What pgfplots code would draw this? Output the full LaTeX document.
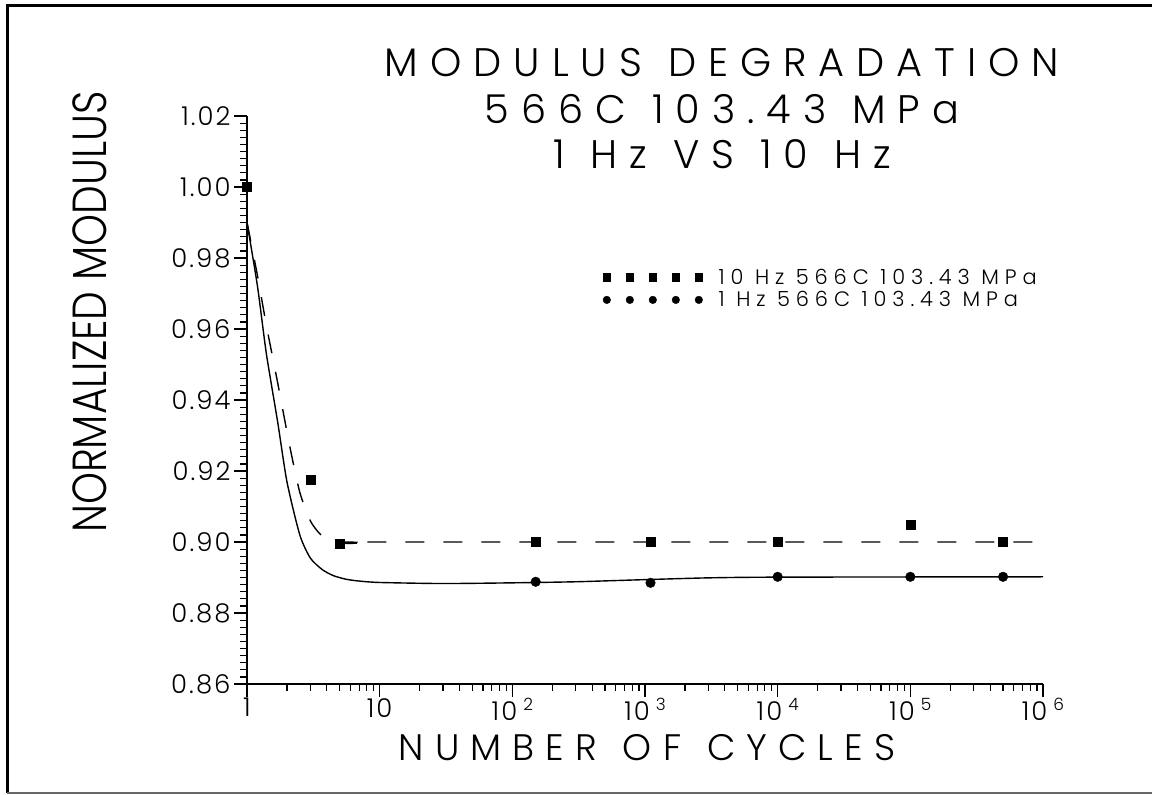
\documentclass[border=0pt]{standalone}
\usepackage{pgfplots}
\pgfplotsset{compat=1.18}
\usepackage{fontspec}
\setmainfont{Poppins Light}
\newfontfamily\tf{Poppins Light}[LetterSpace=30]
\newfontfamily\lf{Poppins Light}[LetterSpace=28]
\newfontfamily\yf{Poppins Light}[FakeStretch=0.85]
\newfontfamily\kf{Poppins Light}[LetterSpace=8]
\newcommand{\sups}[1]{10\hspace{6bp}\raisebox{10bp}{\fontsize{17}{17}\selectfont #1}}
\begin{document}
\begin{tikzpicture}
\useasboundingbox (0,0) rectangle (1154bp,-795bp);
\draw[line width=3bp] (7bp,-793bp) -- (7bp,-5bp) -- (1152bp,-5bp);
\draw[line width=1.5bp, black!60] (7bp,-793bp) -- (1152bp,-793bp);
\begin{axis}[
  at={(247bp,-684bp)}, anchor=south west,
  scale only axis, width=796bp, height=568bp,
  xmode=log, xmin=1, xmax=1e6, ymin=0.86, ymax=1.02,
  axis x line*=bottom, axis y line*=left,
  axis line style={line width=1.6bp},
  xtick={1,10,100,1000,10000,100000,1000000},
  xticklabels={1,10,\sups{2},\sups{3},\sups{4},\sups{5},\sups{6}},
  ytick={0.86,0.88,0.90,0.92,0.94,0.96,0.98,1.00,1.02},
  yticklabels={0.86,0.88,0.90,0.92,0.94,0.96,0.98,1.00,1.02},
  minor y tick num=9,
  tick align=outside,
  major tick length=13bp, minor tick length=7bp,
  tick style={black, line width=1.2bp},
  ticklabel style={font=\kf\fontsize{26}{26}\selectfont},
  xticklabel style={inner sep=1bp, text depth=0pt},
  clip=false,
  legend style={at={(0.447,0.735)}, anchor=north west, draw=none, fill=none,
    font=\lf\fontsize{21}{21}\selectfont, inner sep=0pt, row sep=2bp,
    nodes={inner sep=2bp},
    /tikz/every odd column/.append style={column sep=14bp}},
  legend cell align=left,
]
\addplot[line width=1.4bp, smooth, tension=0.4, forget plot] coordinates {
(1,0.990) (1.2,0.972) (1.4,0.953) (1.7,0.934) (2.0,0.917) (2.5,0.902) (3,0.8955)
(3.7,0.8922) (4.5,0.8905) (5.6,0.8895) (7,0.889) (10,0.8886) (30,0.8883) (100,0.8885)
(300,0.8888) (1000,0.8894) (3000,0.8899) (10000,0.8901) (1000000,0.8902)};
\addplot[line width=1.4bp, dash pattern=on 19bp off 19bp, smooth, tension=0.4, forget plot] coordinates {
(1,0.990) (1.2,0.975) (1.4,0.961) (1.7,0.945) (2.1,0.927) (2.5,0.914) (3,0.906)
(3.5,0.9025) (4,0.9008) (5,0.8998) (6,0.8996) (8,0.8999) (10,0.900) (1000000,0.900)};
\addplot[only marks, mark=square*, mark size=4.5bp,
  legend image code/.code={\draw[only marks, mark=square*, mark size=3.6bp] plot coordinates {(0bp,0bp) (23bp,0bp) (46bp,0bp) (69bp,0bp) (92bp,0bp)};}]
  coordinates {(1,1.000) (3,0.9175) (5,0.8995) (150,0.900) (1100,0.900) (10000,0.900) (100000,0.905) (500000,0.900)};
\addlegendentry{10 Hz 566C 103.43 MPa}
\addplot[only marks, mark=*, mark size=4.8bp,
  legend image code/.code={\draw[only marks, mark=*, mark size=3.8bp] plot coordinates {(0bp,0bp) (23bp,0bp) (46bp,0bp) (69bp,0bp) (92bp,0bp)};}]
  coordinates {(150,0.8888) (1100,0.8885) (10000,0.8902) (100000,0.8902) (500000,0.8902)};
\addlegendentry{1 Hz 566C 103.43 MPa}
\end{axis}
\node[anchor=base, font=\tf\fontsize{40}{40}\selectfont] at (722bp,-76bp) {MODULUS\hspace{26bp}DEGRADATION};
\node[anchor=base, font=\tf\fontsize{40}{40}\selectfont] at (722bp,-123bp) {566C\hspace{26bp}103.43\hspace{26bp}MPa};
\node[anchor=base, font=\tf\fontsize{40}{40}\selectfont] at (722bp,-168bp) {1\hspace{26bp}Hz\hspace{26bp}VS\hspace{26bp}10\hspace{26bp}Hz};
\node[rotate=90, font=\yf\fontsize{48}{48}\selectfont] at (90bp,-312bp) {NORMALIZED MODULUS};
\node[anchor=base, inner sep=0pt, font=\tf\fontsize{37}{37}\selectfont] at (647bp,-760bp) {NUMBER\hspace{26bp}OF\hspace{26bp}CYCLES};
\end{tikzpicture}
\end{document}
